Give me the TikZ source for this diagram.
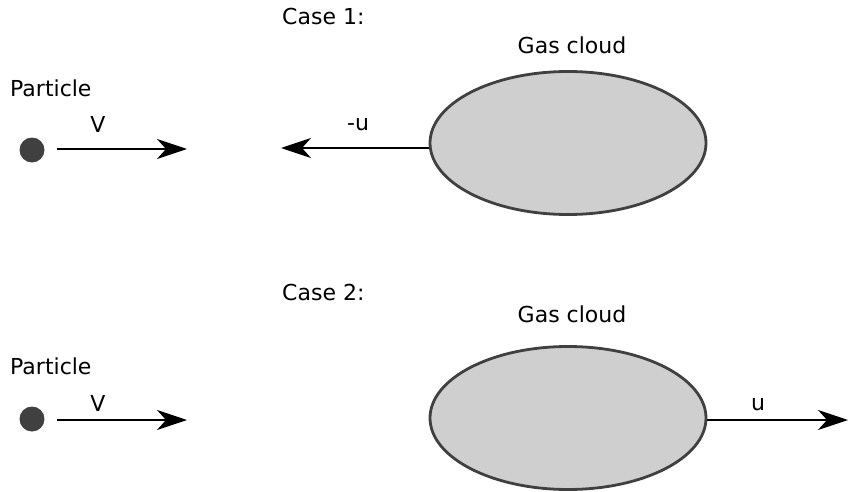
\documentclass[tikz,border=0pt]{standalone}
\usepackage{fontspec}
\setmainfont{DejaVu Sans}
\usetikzlibrary{shapes.geometric,arrows.meta}
\begin{document}
\begin{tikzpicture}[x=1pt,y=-1pt,
  lbl/.style={font=\fontsize{22}{26}\selectfont, inner sep=0pt},
  cloud/.style={ellipse, draw=black!75, line width=2.8pt, fill=black!19, minimum width=276pt, minimum height=143pt, inner sep=0pt},
  dot/.style={circle, fill=black!75, minimum size=25pt, inner sep=0pt},
  vel/.style={line width=1.8pt, -{Stealth[length=30pt,width=20pt,inset=9pt]}}]
\useasboundingbox (0,0) rectangle (848,492);
% Case 1
\node[lbl, anchor=west] (c1) at (282,16) {Case 1:};
\node[lbl] (g1) at (572,45) {Gas cloud};
\node[lbl, anchor=west] (p1) at (10,88) {Particle};
\node[dot] (d1) at (32,150) {};
\coordinate (v1e) at (187,149);
\draw[vel] (57,149) coordinate (v1s) -- (v1e);
\node[lbl] (vl1) at (98,124) {V};
\node[cloud] (e1) at (568,143) {};
\coordinate (u1e) at (281,148);
\draw[vel] (e1.west |- u1e) -- (u1e);
\node[lbl] (ul1) at (358,124) {-u};
% Case 2
\node[lbl, anchor=west] (c2) at (282,292) {Case 2:};
\node[lbl] (g2) at (572,314) {Gas cloud};
\node[lbl, anchor=west] (p2) at (10,366) {Particle};
\node[dot] (d2) at (32,419) {};
\coordinate (v2e) at (187,420);
\draw[vel] (57,420) coordinate (v2s) -- (v2e);
\node[lbl] (vl2) at (98,403) {V};
\node[cloud] (e2) at (568,418) {};
\coordinate (u2e) at (848,420);
\draw[vel] (e2.east |- u2e) -- (u2e);
\node[lbl] (ul2) at (758,404) {u};
\end{tikzpicture}
\end{document}
